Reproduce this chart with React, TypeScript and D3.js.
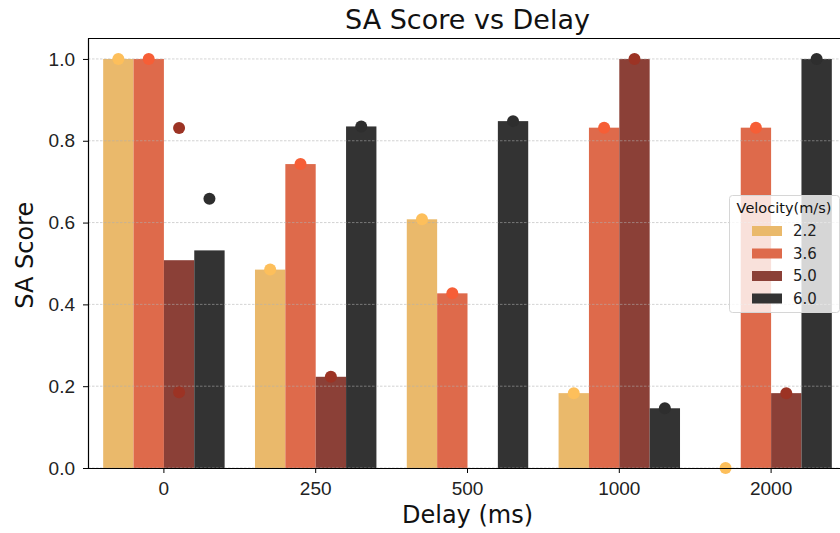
import { useEffect, useRef } from "react";
import * as d3 from "d3";

// categories
const delays = ["0", "250", "500", "1000", "2000"];
const velocities = ["2.2", "3.6", "5.0", "6.0"];

// mean SA score per velocity, one value per delay (null = no bar)
const v22 = [1.0, 0.485, 0.608, 0.183, 0.0];
const v36 = [1.0, 0.743, 0.427, 0.832, 0.832];
const v50 = [0.508, 0.223, null, 1.0, 0.183];
const v60 = [0.532, 0.835, 0.848, 0.146, 1.0];

// visible individual observations per velocity, per delay
const p22 = [[1.0], [0.485], [0.608], [0.183], [0.0]];
const p36 = [[1.0], [0.743], [0.427], [0.832], [0.832]];
const p50 = [[0.831, 0.185], [0.223], [], [1.0], [0.183]];
const p60 = [[0.658], [0.835], [0.848], [0.146], [1.0]];

const yTicks = [0, 0.2, 0.4, 0.6, 0.8, 1.0];

const barColors = ["#EAB96B", "#DE6A4B", "#8B4037", "#333333"];
const dotColors = ["#FDBF5B", "#F65E36", "#9C3324", "#2E2E2E"];

export default function App() {
  const ref = useRef<SVGSVGElement>(null);

  useEffect(() => {
    const width = 840,
      height = 533;
    const marginLeft = 88,
      marginRight = -7,
      marginTop = 38.5,
      marginBottom = 65;
    const means = [v22, v36, v50, v60];
    const pts = [p22, p36, p50, p60];

    const svg = d3.select(ref.current);
    svg.selectAll("*").remove();
    svg.style("font-family", "DejaVu Sans, sans-serif");

    const x = d3
      .scaleBand()
      .domain(delays)
      .range([marginLeft, width - marginRight])
      .paddingInner(0)
      .paddingOuter(0);

    const xs = d3
      .scaleBand()
      .domain(velocities)
      .range([x.bandwidth() * 0.1, x.bandwidth() * 0.9]);

    const y = d3
      .scaleLinear()
      .domain([0, 1.05])
      .range([height - marginBottom, marginTop]);

    // bars
    velocities.forEach((v, i) => {
      svg
        .append("g")
        .attr("fill", barColors[i])
        .selectAll("rect")
        .data(delays.map((d, j) => ({ d, val: means[i][j] })).filter((e) => e.val !== null))
        .join("rect")
        .attr("x", (e) => x(e.d)! + xs(v)!)
        .attr("width", xs.bandwidth())
        .attr("y", (e) => y(e.val as number))
        .attr("height", (e) => y(0) - y(e.val as number));
    });

    // grid (drawn above the bars, like matplotlib's default)
    svg
      .append("g")
      .selectAll("line")
      .data(yTicks)
      .join("line")
      .attr("x1", marginLeft)
      .attr("x2", width)
      .attr("y1", (d) => y(d))
      .attr("y2", (d) => y(d))
      .attr("stroke", "#b0b0b0")
      .attr("stroke-opacity", 0.7)
      .attr("stroke-width", 0.8)
      .attr("stroke-dasharray", "2.5,1.5");

    // dots
    velocities.forEach((v, i) => {
      const flat = delays.flatMap((d, j) => pts[i][j].map((val) => ({ d, val })));
      svg
        .append("g")
        .attr("fill", dotColors[i])
        .selectAll("circle")
        .data(flat)
        .join("circle")
        .attr("cx", (e) => x(e.d)! + xs(v)! + xs.bandwidth() / 2)
        .attr("cy", (e) => y(e.val))
        .attr("r", 6);
    });

    // axes
    const yAxis = svg
      .append("g")
      .attr("transform", `translate(${marginLeft},0)`)
      .call(d3.axisLeft(y).tickValues(yTicks).tickFormat(d3.format(".1f")).tickSize(5).tickPadding(8));
    yAxis.select(".domain").attr("d", `M0.5,${y(0)}V${marginTop}`).attr("stroke", "#000").attr("stroke-width", 1.2);
    yAxis.selectAll("text").attr("font-size", 19).attr("fill", "#222");

    const xAxis = svg
      .append("g")
      .attr("transform", `translate(0,${y(0)})`)
      .call(d3.axisBottom(x).tickSize(5).tickPadding(9));
    xAxis.select(".domain").attr("d", `M${marginLeft},0.5H${width}`).attr("stroke", "#000").attr("stroke-width", 1.2);
    xAxis.selectAll("text").attr("font-size", 19).attr("fill", "#222");

    // top spine
    svg
      .append("line")
      .attr("x1", marginLeft)
      .attr("x2", width)
      .attr("y1", marginTop)
      .attr("y2", marginTop)
      .attr("stroke", "#000")
      .attr("stroke-width", 1.2);

    // titles
    svg
      .append("text")
      .attr("x", (marginLeft + width - marginRight) / 2)
      .attr("y", 29)
      .attr("text-anchor", "middle")
      .attr("font-size", 27)
      .attr("fill", "#111")
      .text("SA Score vs Delay");

    svg
      .append("text")
      .attr("x", (marginLeft + width - marginRight) / 2)
      .attr("y", 523)
      .attr("text-anchor", "middle")
      .attr("font-size", 24)
      .attr("fill", "#111")
      .text("Delay (ms)");

    svg
      .append("text")
      .attr("transform", `translate(33,${(y(0) + marginTop) / 2 + 2}) rotate(-90)`)
      .attr("text-anchor", "middle")
      .attr("font-size", 24)
      .attr("fill", "#111")
      .text("SA Score");

    // legend
    const lg = svg.append("g").attr("transform", "translate(729,195)");
    lg.append("rect")
      .attr("x", 0.5)
      .attr("y", 0.5)
      .attr("width", 110)
      .attr("height", 117)
      .attr("rx", 3)
      .attr("fill", "white")
      .attr("fill-opacity", 0.8)
      .attr("stroke", "#d6d6d6");
    lg.append("text")
      .attr("x", 55)
      .attr("y", 18)
      .attr("text-anchor", "middle")
      .attr("font-size", 14.5)
      .attr("fill", "#111")
      .text("Velocity(m/s)");
    velocities.forEach((v, i) => {
      lg.append("rect")
        .attr("x", 23)
        .attr("y", 31 + i * 22.5)
        .attr("width", 30)
        .attr("height", 10)
        .attr("fill", barColors[i]);
      lg.append("text")
        .attr("x", 64)
        .attr("y", 41 + i * 22.5)
        .attr("font-size", 15)
        .attr("fill", "#222")
        .text(v);
    });
  }, []);

  return (
    <svg
      ref={ref}
      width={840}
      height={533}
      style={{ position: "absolute", left: 0, top: 0, background: "white" }}
    />
  );
}
